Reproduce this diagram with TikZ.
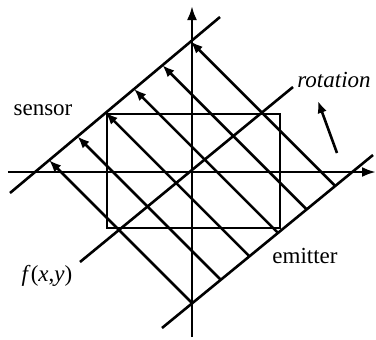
\documentclass[tikz,border=0pt]{standalone}
\usepackage{fontspec}
\setmainfont{Liberation Serif}
\usetikzlibrary{arrows.meta,calc}
\begin{document}
\begin{tikzpicture}[x=0.5pt,y=-0.5pt,
  ln/.style={line width=1.3pt},
  axis/.style={ln,-{Latex[length=7pt,width=5pt]}},
  ray/.style={ln,-{Latex[length=6pt,width=4.8pt]}},
  lbl/.style={font=\fontsize{11.5}{13}\selectfont, inner sep=0pt}]
\useasboundingbox (0,0) rectangle (376,339);
% axes
\coordinate (vb) at (192,337);
\coordinate (vt) at (192,6);
\coordinate (hl) at (8,172);
\coordinate (hr) at (376,172);
\draw[axis] (vb) -- (vt);
\draw[axis] (hl) -- (hr);
% object rectangle
\coordinate (rA) at (107,114);
\coordinate (rB) at (280,228);
\draw[ln] (rA) rectangle (rB);
% sensor and emitter lines
\coordinate (sA) at (10,193);
\coordinate (sB) at (220,17);
\coordinate (eA) at (162,328);
\coordinate (eB) at (373,155);
\draw[ln] (sA) -- (sB);
\draw[ln] (eA) -- (eB);
% central line
\coordinate (cA) at (80,262);
\coordinate (cB) at (293,87);
\draw[ln] (cA) -- (cB);
% rays from emitter to sensor
\foreach \i in {0,...,5}{
  \pgfmathsetmacro{\xe}{192+28.6*\i}
  \pgfmathsetmacro{\ye}{303-23.452*\i}
  \pgfmathsetmacro{\xs}{(90.38+52.052*\i)/1.838}
  \pgfmathsetmacro{\ys}{111-52.052*\i+\xs}
  \coordinate (e\i) at (\xe,\ye);
  \coordinate (s\i) at (\xs,\ys);
  \draw[ray] (e\i) -- (s\i);
}
% rotation arrow
\coordinate (ro1) at (337,153);
\coordinate (ro2) at (318,101);
\draw[ray] (ro1) -- (ro2);
% labels
\node[lbl] (sensor) at (43,110) {sensor};
\node[lbl] (rotation) at (334,80) {\itshape rotation};
\node[lbl] (emitter) at (305,256) {emitter};
\node[lbl] (fxy) at (47,276) {\itshape f\/\upshape(\itshape x\upshape,\itshape y\upshape)};
\end{tikzpicture}
\end{document}
